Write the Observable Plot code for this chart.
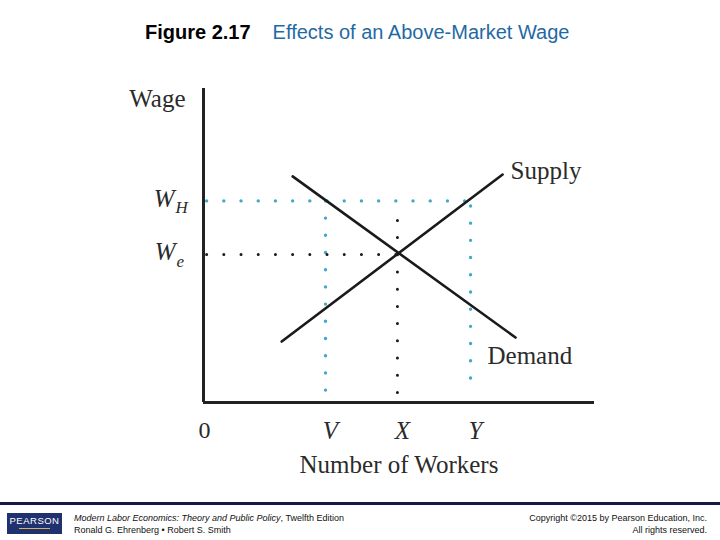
<!DOCTYPE html>
<html>
<head>
<meta charset="utf-8">
<script src="https://cdn.jsdelivr.net/npm/d3@7"></script>
<script src="https://cdn.jsdelivr.net/npm/@observablehq/plot@0.6"></script>
<style>
  html, body { margin: 0; padding: 0; background: #fff; width: 720px; height: 540px; overflow: hidden; }
  #title { height: 60px; position: relative; font-family: Arial, "Liberation Sans", sans-serif; }
  #title .t { position: absolute; left: 145px; top: 21px; font-size: 20px; white-space: nowrap; }
  #title .fig { font-weight: bold; color: #000; }
  #title .sub { color: #1f6aa5; margin-left: 22px; }
  #chart { height: 440px; }
  #chart svg { display: block; }
  #footer { position: relative; height: 40px; font-family: Arial, "Liberation Sans", sans-serif; font-size: 9px; color: #111; }
  #footer .bar { position: absolute; left: 0; top: 2px; width: 720px; height: 3px; background: #151a45; }
  #footer .logo { position: absolute; left: 7px; top: 13px; width: 55px; height: 21px; background: #1f316f; color: #fff; font-size: 9.5px; letter-spacing: 0.5px; text-align: center; line-height: 15px; }
  #footer .logo .sw { position: absolute; left: 12px; top: 15px; width: 31px; height: 1px; background: #d8b25a; }
  #footer .left { position: absolute; left: 74px; top: 12px; line-height: 12px; white-space: nowrap; }
  #footer .right { position: absolute; right: 13px; top: 12px; line-height: 12px; text-align: right; white-space: nowrap; }
</style>
</head>
<body>
<div id="title"><div class="t"><span class="fig">Figure 2.17</span><span class="sub">Effects of an Above-Market Wage</span></div></div>
<div id="chart"></div>
<div id="footer">
  <div class="bar"></div>
  <div class="logo">PEARSON<div class="sw"></div></div>
  <div class="left"><i>Modern Labor Economics: Theory and Public Policy</i>, Twelfth Edition<br>Ronald G. Ehrenberg • Robert S. Smith</div>
  <div class="right">Copyright ©2015 by Pearson Education, Inc.<br>All rights reserved.</div>
</div>
<script>
// ---- data (arbitrary units 0..10) ----
const supplyX = [2.0, 7.65];
const supplyY = [1.94, 7.26];
const demandX = [2.28, 7.98];
const demandY = [7.20, 2.07];
const wageHigh = 6.42;   // W_H
const wageEq = 4.71;     // W_e
const xTickLabels = ["V", "X", "Y"];
const xTickValues = [3.12, 4.96, 6.83]; // V, X, Y
const zeroLabel = "0";
const yAxisLabel = "Wage";
const xAxisLabel = "Number of Workers";
const supplyLabel = "Supply";
const demandLabel = "Demand";

const [V, X, Y] = xTickValues;
const supply = supplyX.map((x, i) => ({x, y: supplyY[i]}));
const demand = demandX.map((x, i) => ({x, y: demandY[i]}));

const cyanGuides = [
  {x1: 0.08, y1: wageHigh, x2: Y, y2: wageHigh},
  {x1: V, y1: wageHigh, x2: V, y2: 0.32},
  {x1: Y, y1: wageHigh - 0.16, x2: Y, y2: 0.32}
];
const blackGuides = [
  {x1: 0.08, y1: wageEq, x2: X, y2: wageEq},
  {x1: X, y1: wageHigh - 0.62, x2: X, y2: 0.32}
];

const serif = "'Liberation Serif', 'DejaVu Serif', serif";
const textColor = "#2b2b2b";
const dotCyan = "#3fa9c8";

const plot = Plot.plot({
  width: 720,
  height: 440,
  marginLeft: 203,
  marginRight: 126,
  marginTop: 28,
  marginBottom: 98,
  x: {domain: [0, 10], axis: null},
  y: {domain: [0, 10], axis: null},
  style: {background: "transparent", overflow: "visible"},
  marks: [
    Plot.link(cyanGuides, {x1: "x1", y1: "y1", x2: "x2", y2: "y2", stroke: dotCyan, strokeWidth: 3.4, strokeLinecap: "round", strokeDasharray: "0 17.2"}),
    Plot.link(blackGuides, {x1: "x1", y1: "y1", x2: "x2", y2: "y2", stroke: "#1a1a1a", strokeWidth: 3, strokeLinecap: "round", strokeDasharray: "0 17.2"}),
    Plot.line(supply, {x: "x", y: "y", stroke: "#1a1a1a", strokeWidth: 2.6}),
    Plot.line(demand, {x: "x", y: "y", stroke: "#1a1a1a", strokeWidth: 2.6}),
    Plot.ruleX([0], {stroke: "#222", strokeWidth: 3}),
    Plot.ruleY([0], {stroke: "#222", strokeWidth: 3}),
    // curve labels
    Plot.text([supply[1]], {x: "x", y: "y", text: () => supplyLabel, textAnchor: "start", dx: 8, dy: -4, fontSize: 25, fontFamily: serif, fill: textColor}),
    Plot.text([demand[1]], {x: "x", y: "y", text: () => demandLabel, textAnchor: "start", dx: -28, dy: 18, fontSize: 25, fontFamily: serif, fill: textColor}),
    // y-axis labels
    Plot.text([10], {x: 0, y: d => d, text: () => yAxisLabel, textAnchor: "end", dx: -18, dy: 10, fontSize: 25, fontFamily: serif, fill: textColor}),
    Plot.text([wageHigh], {x: 0, y: d => d, text: () => "W", textAnchor: "end", dx: -29, dy: -2, fontSize: 25, fontStyle: "italic", fontFamily: serif, fill: textColor}),
    Plot.text([wageHigh], {x: 0, y: d => d, text: () => "H", textAnchor: "start", dx: -28, dy: 7, fontSize: 17, fontStyle: "italic", fontFamily: serif, fill: textColor}),
    Plot.text([wageEq], {x: 0, y: d => d, text: () => "W", textAnchor: "end", dx: -28, dy: -3, fontSize: 25, fontStyle: "italic", fontFamily: serif, fill: textColor}),
    Plot.text([wageEq], {x: 0, y: d => d, text: () => "e", textAnchor: "start", dx: -27, dy: 7, fontSize: 17, fontStyle: "italic", fontFamily: serif, fill: textColor}),
    // x-axis labels
    Plot.text([0], {x: d => d, y: 0, text: () => zeroLabel, dx: 1, dy: 28, fontSize: 24, fontFamily: serif, fill: textColor}),
    Plot.text(xTickValues, {x: d => d, y: 0, text: (d, i) => xTickLabels[i], dx: 5, dy: 28, fontSize: 25, fontStyle: "italic", fontFamily: serif, fill: textColor}),
    Plot.text([xAxisLabel], {frameAnchor: "bottom", dx: 0, dy: 70, fontSize: 25, fontFamily: serif, fill: textColor})
  ]
});
document.getElementById("chart").appendChild(plot);
</script>
</body>
</html>
